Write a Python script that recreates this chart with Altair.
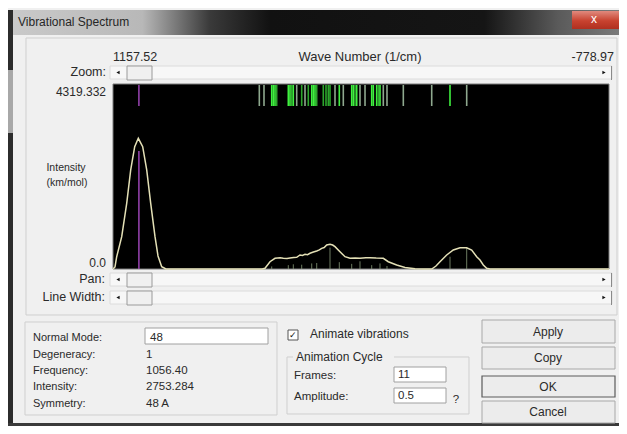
import altair as alt
import pandas as pd

# ---------------- data ----------------
x_left, x_right = 1157.52, -778.97
y_top = 4319.332

curve_wn = [1157.52, 1149.7, 1143.1, 1123.5, 1104.0, 1088.4, 1072.8, 1058.7, 1041.6, 1025.9,
            1010.3, 993.5, 981.8, 967.4, 950.6, 575.0, 564.1, 544.6, 525.0, 505.0, 492.6,
            478.0, 466.5, 452.0, 440.3, 427.4, 418.0, 407.9, 398.0, 388.4, 375.0, 362.2, 352.0,
            342.7, 333.0, 323.2, 310.3, 300.0, 290.8, 271.3, 251.8, 232.3, 212.0, 193.2, 170.0,
            154.2, 130.0, 102.2, 82.7, 49.9, 17.5, -21.6, -60.6, -86.8, -103.5, -119.1, -145.3,
            -171.1, -197.3, -223.4, -242.9, -262.4, -275.3, -288.2, -301.4, -314.3, -778.97]
curve_int = [0, 47, 287, 754, 1534, 2312, 2856, 3052, 2856, 2312,
             1534, 754, 304, 54, 0, 0, 16, 170, 250, 262, 250,
             245, 257, 268, 273, 327, 318, 343, 335, 367, 395, 420, 445,
             483, 500, 560, 577, 560, 521, 404, 287, 250, 258, 250, 262,
             264, 255, 250, 170, 93, 35, 7, 0, 0, 70, 170, 327,
             444, 497, 497, 444, 287, 210, 93, 16, 0, 0]

mode_wn = [586.3, 568.0, 537.9, 531.7, 525.0, 518.4, 473.1, 466.5, 459.8, 453.6, 440.3, 420.8,
           407.9, 395.0, 381.7, 375.5, 368.9, 362.2, 336.5, 325.9, 316.9, 310.3, 290.8, 274.0,
           258.4, 225.6, 219.3, 212.7, 206.0, 193.2, 173.6, 147.5, 141.2, 128.0, 121.7, 115.1,
           102.2, 87.8, 24.1, -86.8, -158.2, -223.4]
mode_level = ["faint", "faint", "bright", "bright", "bright", "medium", "bright", "bright",
              "medium", "bright", "faint", "medium", "faint", "medium", "bright", "bright",
              "bright", "medium", "medium", "medium", "medium", "medium", "faint", "bright",
              "faint", "bright", "bright", "medium", "bright", "faint", "faint", "bright",
              "bright", "bright", "medium", "bright", "faint", "faint", "faint", "faint",
              "bright", "faint"]

stick_wn = [537.9, 473.1, 453.6, 420.8, 381.7, 362.2, 310.3, 274.0, 225.6, 193.2, 147.5, 115.1,
            87.8, -158.2, -223.4]
stick_int = [60, 90, 110, 100, 130, 140, 500, 160, 120, 180, 90, 130, 70, 287, 490]

sel_wn = [1056.40]
sel_int = [2753.284]

info_labels = ["Normal Mode:", "Degeneracy:", "Frequency:", "Intensity:", "Symmetry:"]
info_values = ["48", "1", "1056.40", "2753.284", "48 A"]
buttons = ["Apply", "Copy", "OK", "Cancel"]

# ---------------- helpers ----------------
FONT = "Liberation Sans"
TXT = "#2a2a2a"
one = pd.DataFrame({"k": [0]})


def rect(x0, x1, y0, y1, fill, stroke=None, sw=1.0):
    kw = {"fill": fill}
    if stroke is not None:
        kw["stroke"] = stroke
        kw["strokeWidth"] = sw
    else:
        kw["strokeWidth"] = 0
    return alt.Chart(one).mark_rect(**kw).encode(
        x=alt.value(x0), x2=alt.value(x1), y=alt.value(y0), y2=alt.value(y1))


def box(x0, x1, y0, y1, stroke, sw=1.0):
    return alt.Chart(one).mark_rect(filled=False, stroke=stroke, strokeWidth=sw).encode(
        x=alt.value(x0), x2=alt.value(x1), y=alt.value(y0), y2=alt.value(y1))


def txt(s, x, y, align="left", size=11, color=TXT):
    return alt.Chart(one).mark_text(text=s, align=align, baseline="middle", font=FONT,
                                    fontSize=size, color=color).encode(
        x=alt.value(x), y=alt.value(y))


def tri(x, y, shape):
    return alt.Chart(one).mark_point(shape=shape, filled=True, size=14, color="#111",
                                     opacity=1).encode(x=alt.value(x), y=alt.value(y))


def scrollbar(x0, x1, y0, y1):
    ym = (y0 + y1) / 2
    return [
        rect(x0, x1, y0, y1, "#f7f7f7", "#dcdcdc"),
        tri(x0 + 8, ym, "triangle-left"),
        rect(x0 + 17, x0 + 42, y0, y1 + 1, "#f0f0f0", "#9a9a9a"),
        tri(x1 - 8, ym, "triangle-right"),
        rect(x1 - 1, x1, y0, y1 + 1, "#8a8a8a"),
    ]


layers = []

# window chrome
layers.append(rect(0, 611, 0, 418, "#f0f0f0"))
title_grad = alt.LinearGradient(
    gradient="linear", x1=0, x2=1, y1=0, y2=0,
    stops=[alt.GradientStop(color="#cacaca", offset=0),
           alt.GradientStop(color="#b8b8b8", offset=0.22),
           alt.GradientStop(color="#3a3a3a", offset=0.33),
           alt.GradientStop(color="#111111", offset=0.43),
           alt.GradientStop(color="#151515", offset=0.78),
           alt.GradientStop(color="#5a5a5a", offset=0.9),
           alt.GradientStop(color="#7a7a7a", offset=1)])
layers.append(rect(0, 611, 2, 27, title_grad))
close_grad = alt.LinearGradient(
    gradient="linear", x1=0, x2=0, y1=0, y2=1,
    stops=[alt.GradientStop(color="#e08a7e", offset=0),
           alt.GradientStop(color="#c8422f", offset=0.55),
           alt.GradientStop(color="#b03020", offset=1)])
layers.append(rect(564, 611, 3, 21, close_grad))
layers.append(txt("x", 586, 11, "center", 12, "#ffffff"))
layers.append(txt("Vibrational Spectrum", 10, 14, "left", 12, "#262626"))
layers.append(rect(0, 5, 2, 418, "#2c2c2c"))
layers.append(rect(0, 5, 62, 125, "#a8a8a8"))
layers.append(rect(0, 611, 415, 418, "#3a3a3a"))

# top group box
layers.append(box(18, 609, 30, 307, "#cfcfcf"))
layers.append(txt("1157.52", 105, 49, "left", 12.5))
layers.append(txt("Wave Number (1/cm)", 352, 49, "center", 13))
layers.append(txt("-778.97", 606, 49, "right", 12.5))
layers.append(txt("Zoom:", 98, 64, "right", 12.5))
layers += scrollbar(102, 604, 58, 71)
layers.append(txt("4319.332", 98, 84, "right", 12))
layers.append(txt("Intensity", 58, 160, "center", 10.5))
layers.append(txt("(km/mol)", 59, 175, "center", 10.5))
layers.append(txt("0.0", 98, 255, "right", 12))
layers.append(txt("Pan:", 97, 271, "right", 12.5))
layers += scrollbar(102, 604, 265, 278)
layers.append(txt("Line Width:", 97, 289, "right", 12.5))
layers += scrollbar(102, 604, 283, 296)

# plot area background
layers.append(rect(105, 601, 76, 261, "#000000", "#7a7a7a"))

# spectrum
xs = alt.Scale(domain=[x_left, x_right], range=[105, 601])
ys = alt.Scale(domain=[0, y_top], range=[261, 76])

curve_df = pd.DataFrame({"wn": curve_wn, "inten": curve_int})
mode_df = pd.DataFrame({"wn": mode_wn, "level": mode_level})
stick_df = pd.DataFrame({"wn": stick_wn, "inten": stick_int})
sel_df = pd.DataFrame({"wn": sel_wn, "inten": sel_int})

layers.append(alt.Chart(stick_df).mark_rule(color="#7f8f72", strokeWidth=1, opacity=0.85).encode(
    x=alt.X("wn:Q", scale=xs, axis=None),
    y=alt.Y("inten:Q", scale=ys, axis=None),
    y2=alt.datum(0)))
layers.append(alt.Chart(sel_df).mark_rule(color="#9a45b3", strokeWidth=1.5).encode(
    x=alt.X("wn:Q", scale=xs, axis=None),
    y=alt.Y("inten:Q", scale=ys, axis=None),
    y2=alt.datum(0)))
layers.append(alt.Chart(curve_df).mark_line(color="#e4e0b6", strokeWidth=1.5).encode(
    x=alt.X("wn:Q", scale=xs, axis=None),
    y=alt.Y("inten:Q", scale=ys, axis=None)))
layers.append(alt.Chart(mode_df).mark_rule(strokeWidth=1.6).encode(
    x=alt.X("wn:Q", scale=xs, axis=None),
    y=alt.value(77), y2=alt.value(98),
    color=alt.Color("level:N", legend=None,
                    scale=alt.Scale(domain=["bright", "medium", "faint"],
                                    range=["#3ff03f", "#2ca52c", "#8ea88e"]))))
layers.append(alt.Chart(sel_df).mark_rule(color="#9a45b3", strokeWidth=1.5).encode(
    x=alt.X("wn:Q", scale=xs, axis=None),
    y=alt.value(77), y2=alt.value(98)))

# bottom-left info panel
layers.append(box(17, 269, 314, 407, "#cfcfcf"))
info_y = [330, 347, 363, 379, 396]
for lab, val, yy in zip(info_labels, info_values, info_y):
    layers.append(txt(lab, 25, yy, "left", 11))
    if lab.startswith("Normal"):
        layers.append(rect(137, 260, 320, 336, "#ffffff", "#a0a0a0"))
        layers.append(txt(val, 142, yy, "left", 11.5))
    else:
        layers.append(txt(val, 138, yy, "left", 11.5))

# animation controls
layers.append(rect(280, 290, 322, 332, "#ffffff", "#555555"))
layers.append(txt("\u2713", 285, 327, "center", 9, "#111111"))
layers.append(txt("Animate vibrations", 302, 326, "left", 12))
layers.append(box(279, 461, 349, 406, "#cfcfcf"))
layers.append(rect(285, 386, 343, 355, "#f0f0f0"))
layers.append(txt("Animation Cycle", 288, 349, "left", 12))
layers.append(txt("Frames:", 286, 368, "left", 11.5))
layers.append(rect(386, 438, 359, 374, "#ffffff", "#a0a0a0"))
layers.append(txt("11", 390, 367, "left", 11.5))
layers.append(txt("Amplitude:", 286, 389, "left", 11.5))
layers.append(rect(386, 438, 380, 395, "#ffffff", "#a0a0a0"))
layers.append(txt("0.5", 390, 388, "left", 11.5))
layers.append(txt("?", 448, 392, "center", 11.5))

# buttons
btn_y = [(312, 335), (339, 361), (368, 389), (393, 415)]
for name, (y0, y1) in zip(buttons, btn_y):
    stroke = "#5a5a5a" if name == "OK" else "#a8a8a8"
    layers.append(rect(474, 607, y0, y1, "#ececec", stroke, 1.2 if name == "OK" else 1))
    layers.append(txt(name, 540, (y0 + y1) / 2, "center", 12))

chart = alt.layer(*layers).properties(
    width=611, height=418,
    autosize=alt.AutoSizeParams(type="none"),
    padding=0,
    background="#ffffff",
).configure_view(stroke=None)

chart.save("out.html", embed_options={"renderer": "svg", "actions": False})
